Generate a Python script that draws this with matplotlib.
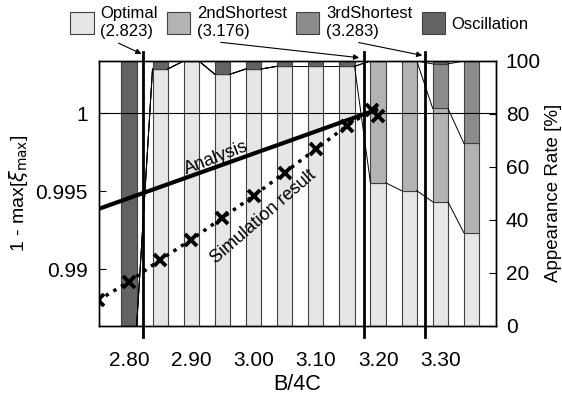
import matplotlib
matplotlib.use("Agg")
import matplotlib.pyplot as plt
import numpy as np

plt.rcParams['font.family'] = ['Liberation Sans', 'DejaVu Sans']

# stacked appearance rates [%] per B/4C value
b4c = [2.80, 2.85, 2.90, 2.95, 3.00, 3.05, 3.10, 3.15, 3.20, 3.25, 3.30, 3.35]
optimal = [0, 97, 100, 95, 97, 98, 98, 98, 54, 51, 46.8, 35.1]
second = [0, 0, 0, 0, 0, 0, 0, 0, 46, 49, 35.3, 33.8]
third = [0, 0, 0, 0, 0, 0, 0, 0, 0, 0, 16.8, 31.1]
oscill = [100, 3, 0, 5, 3, 2, 2, 2, 0, 0, 1.1, 0]

# 1 - max[xi_max]
sim_x = [2.75, 2.80, 2.85, 2.90, 2.95, 3.00, 3.05, 3.10, 3.15, 3.19, 3.20]
sim_y = [0.9880, 0.9892, 0.9906, 0.9919, 0.9933, 0.9947, 0.9962, 0.9977, 0.9992, 1.0002, 0.9998]
ana_x = [2.75, 3.20]
ana_y = [0.99385, 1.00026]

# thresholds shown in legend
thresholds = [2.823, 3.178, 3.276]
legend_labels = ['Optimal\n(2.823)', '2ndShortest\n(3.176)', '3rdShortest\n(3.283)', 'Oscillation']
colors = ['#e6e6e6', '#b3b3b3', '#8c8c8c', '#636363']

W, H = 562, 394
fig = plt.figure(figsize=(W / 100, H / 100), dpi=100)
ax = fig.add_axes([99 / W, 1 - 325.7 / H, 397 / W, 264.7 / H])
ax2 = ax.twinx()

x = np.array(b4c)
width = 0.0245
bottom = np.zeros(len(x))
cums = []
for vals, c, lab in zip([optimal, second, third, oscill], colors, legend_labels):
    ax.bar(x, vals, width, bottom=bottom, color=c, edgecolor='#404040', linewidth=0.8, label=lab, zorder=2)
    bottom = bottom + np.array(vals)
    cums.append(bottom.copy())

# series lines between bars
for cum in cums[:3]:
    for i in range(len(x) - 1):
        ax.plot([x[i] + width / 2, x[i + 1] - width / 2], [cum[i], cum[i + 1]],
                color='black', lw=0.7, zorder=3)

ax.set_xlim(2.7518, 3.3894)
ax.set_ylim(0, 100)
ax.yaxis.tick_right()
ax.yaxis.set_label_position('right')
ax.set_yticks([0, 20, 40, 60, 80, 100])
ax.tick_params(axis='y', direction='in', length=5, labelsize=15, pad=7)
ax.set_ylabel('Appearance Rate [%]', fontsize=13.5, labelpad=3)
ax.set_xticks([2.80, 2.90, 3.00, 3.10, 3.20, 3.30])
ax.set_xticklabels(['2.80', '2.90', '3.00', '3.10', '3.20', '3.30'])
ax.tick_params(axis='x', length=0, labelsize=15, pad=18)
ax.set_xlabel('B/4C', fontsize=15.5, labelpad=3)

# threshold lines extending beyond the axes
tr = ax.get_xaxis_transform()
for t in thresholds:
    ax.plot([t, t], [-0.043, 1.034], transform=tr, color='black', lw=2, clip_on=False, zorder=5)

ax2.yaxis.tick_left()
ax2.yaxis.set_label_position('left')
ax2.set_ylim(0.98638, 1.00335)
ax2.set_yticks([0.99, 0.995, 1.0])
ax2.set_yticklabels(['0.99', '0.995', '1'])
ax2.tick_params(axis='y', direction='in', length=5, labelsize=15, pad=8)
ax2.set_ylabel(r'1 - max[$\xi_{\mathrm{max}}$]', fontsize=14, labelpad=4)
ax2.axhline(1.0, color='black', lw=0.8, zorder=1)

ax2.plot(ana_x, ana_y, color='black', lw=3, solid_capstyle='butt', clip_on=True)
ax2.plot(sim_x, sim_y, color='black', lw=2.5, linestyle=(0, (1, 1.6)),
         marker='x', markersize=8, markeredgewidth=2.8)

ax2.text(2.941, 0.99713, 'Analysis', rotation=21, fontsize=13, ha='center', va='center')
ax2.text(3.016, 0.99335, 'Simulation result', rotation=41, fontsize=13, ha='center', va='center')

for a in (ax, ax2):
    for s in a.spines.values():
        s.set_linewidth(1.0)

handles, labels = ax.get_legend_handles_labels()
fig.legend(handles, labels, loc='upper left', bbox_to_anchor=(62 / W, 1.005), ncol=4, frameon=False,
           fontsize=12, handlelength=1.4, handleheight=1.6, handletextpad=0.4, columnspacing=0.55,
           borderaxespad=0.1, labelspacing=0)

# arrows from legend entries to threshold lines
arrows = [((116, 42), (144, 55)), ((218, 42), (362, 58)), ((356, 42), (425, 56))]
for (x0, y0), (x1, y1) in arrows:
    fig.add_artist(matplotlib.patches.FancyArrowPatch(
        (x0 / W, 1 - y0 / H), (x1 / W, 1 - y1 / H), transform=fig.transFigure,
        arrowstyle='-|>', mutation_scale=8, color='black', lw=0.8))

fig.savefig('out.png', dpi=100)
